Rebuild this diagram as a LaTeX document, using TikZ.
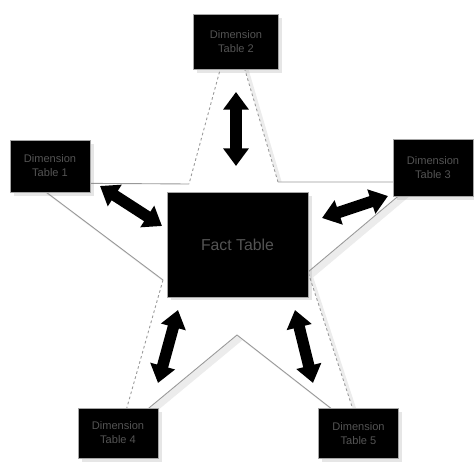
\documentclass[tikz,border=0pt]{standalone}
\usepackage{fontspec}
\setsansfont{Liberation Sans}
\usetikzlibrary{arrows.meta}
\usetikzlibrary{shadows}
\definecolor{text-gray}{gray}{0.33}
\definecolor{edge-gray}{gray}{0.6}
\tikzstyle{dimtable}=[fill=black,draw=gray!70,line width=0.3pt,minimum width=1.6cm,minimum height=1.04cm,align=center,text=text-gray,font=\sffamily\fontsize{6.3}{8}\selectfont,drop shadow={shadow xshift=2pt,shadow yshift=-2pt,opacity=0.2,fill=gray}]
\tikzstyle{facttable}=[dimtable,minimum width=2.82cm,minimum height=2.1cm,font=\sffamily\fontsize{9}{11}\selectfont]
\tikzstyle{staredge}=[edge-gray,line width=0.5pt]
\tikzstyle{stardash}=[staredge,dash pattern=on 1.5pt off 1.5pt]
\tikzstyle{linkarrow}=[line width=6.5pt,{Triangle[width=14pt,length=10pt]}-{Triangle[width=14pt,length=10pt]}]

\begin{document}
\begin{tikzpicture}[x=0.02cm,y=-0.02cm]
\useasboundingbox (0,0) rectangle (474,462);
% star points (under the tables) and inner corners
\coordinate (t2) at (232,26);
\coordinate (t1) at (34,183);
\coordinate (t4) at (120,432);
\coordinate (t5) at (360,431);
\coordinate (t3) at (415,182);
\coordinate (i12) at (189,184);
\coordinate (i14) at (163,280);
\coordinate (i45) at (237,335);
\coordinate (i35) at (308,272);
\coordinate (i23) at (278,182);
% star body with its shadow
\fill[white,drop shadow={shadow xshift=3pt,shadow yshift=-3pt,opacity=0.15,fill=gray}]
	(t2) -- (i12) -- (t1) -- (i14) -- (t4) -- (i45) -- (t5) -- (i35) -- (t3) -- (i23) -- cycle;
% star edges
\draw[stardash] (t2) -- (i12);
\draw[staredge] (i12) -- (t1) -- (i14);
\draw[stardash] (i14) -- (t4);
\draw[staredge] (t4) -- (i45) -- (t5);
\draw[stardash] (t5) -- (i35);
\draw[staredge] (i35) -- (t3) -- (i23);
\draw[stardash] (i23) -- (t2);
% arrow ends
\coordinate (a2s) at (236,92);   \coordinate (a2e) at (236,166);
\coordinate (a1s) at (100,186);  \coordinate (a1e) at (162,226);
\coordinate (a3s) at (322,218);  \coordinate (a3e) at (388,196);
\coordinate (a4s) at (178,310);  \coordinate (a4e) at (158,383);
\coordinate (a5s) at (295,310);  \coordinate (a5e) at (313,383);
\draw[linkarrow] (a2s) -- (a2e);
\draw[linkarrow] (a1s) -- (a1e);
\draw[linkarrow] (a3s) -- (a3e);
\draw[linkarrow] (a4s) -- (a4e);
\draw[linkarrow] (a5s) -- (a5e);
% tables
\node[facttable] (fact) at (237.5,244.5) {Fact Table};
\node[dimtable,minimum width=1.7cm,minimum height=1.1cm] (dim2) at (236,42) {Dimension\\Table 2};
\node[dimtable] (dim1) at (50,166) {Dimension\\Table 1};
\node[dimtable,minimum height=1.14cm] (dim3) at (433,168) {Dimension\\Table 3};
\node[dimtable,minimum height=1cm] (dim4) at (118,433) {Dimension\\Table 4};
\node[dimtable,minimum height=1cm] (dim5) at (358.5,433.5) {Dimension\\Table 5};
\end{tikzpicture}
\end{document}
